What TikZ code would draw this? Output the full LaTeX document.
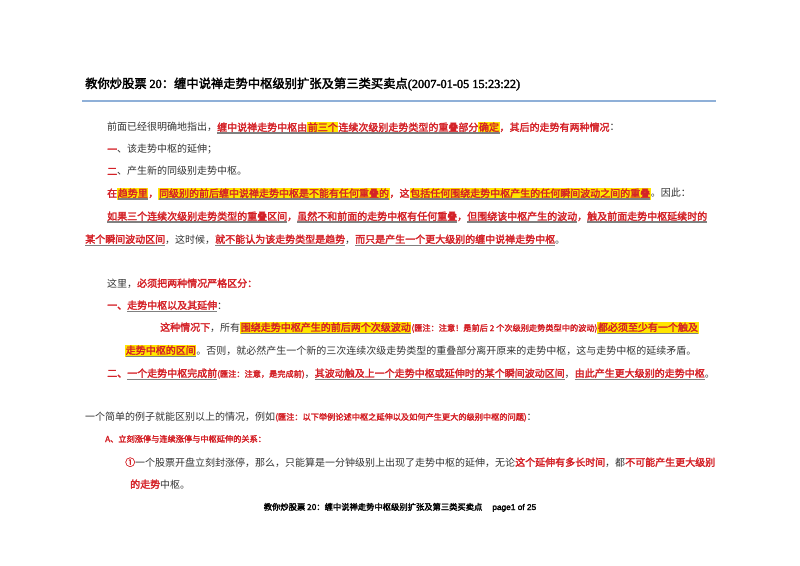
\documentclass[tikz,border=0pt]{standalone}
\usepackage{fontspec}
\setmainfont{Noto Sans CJK SC}[AutoFakeBold=2.5]
\newfontfamily\latinfont{Liberation Serif}[AutoFakeBold=2.5]
\newfontfamily\footfont{Liberation Sans}[AutoFakeBold=2.5]
\definecolor{redtxt}{HTML}{D42228}
\definecolor{yellowhl}{HTML}{FFE500}
\definecolor{bluerule}{HTML}{8FB0D8}
\definecolor{greytxt}{HTML}{333333}
% yellow mark, grey underline, red bold run, small note
\newcommand\hlt[1]{{\setlength\fboxsep{0.6bp}\colorbox{yellowhl}{#1}}}
\newcommand\dul[1]{\setbox0\hbox{#1}\rlap{\color{gray}\rule[-2.6bp]{\wd0}{1.1bp}}\box0}
\newcommand\rb[1]{{\color{redtxt}\bfseries #1}}
\newcommand\note[1]{{\fontsize{8.2bp}{9bp}\selectfont\color{redtxt}\bfseries #1}}
\tikzset{
  line/.style={anchor=base west, inner sep=0pt, text=greytxt,
    font=\fontsize{10bp}{12bp}\selectfont},
  title/.style={anchor=base west, inner sep=0pt, text=black,
    font=\fontsize{12.3bp}{14bp}\selectfont\bfseries}
}
\begin{document}
\begin{tikzpicture}[x=1bp, y=-1bp]
  \useasboundingbox (0,0) rectangle (800,566);
  % heading
  \node[title] (head) at (85,88) {教你炒股票 {\latinfont 20}：缠中说禅走势中枢级别扩张及第三类买卖点{\latinfont (2007-01-05 15:23:22)}};
  \draw[bluerule, line width=1.2bp] (82,101) -- (716,101);

  % first block
  \node[line] (p1) at (107,131) {前面已经很明确地指出，\rb{\dul{缠中说禅走势中枢由\hlt{前三个}连续次级别走势类型的重叠部分\hlt{确定}}，其后的走势有两种情况}：};
  \node[line] (p2) at (107,153) {\rb{一}、该走势中枢的延伸；};
  \node[line] (p3) at (107,175) {\rb{二}、产生新的同级别走势中枢。};
  \node[line] (p4) at (107,197) {\rb{在\hlt{\dul{趋势里}}，\hlt{\dul{同级别的前后缠中说禅走势中枢是不能有任何重叠的}}，这\hlt{\dul{包括任何围绕走势中枢产生的任何瞬间波动之间的重叠}}}。因此：};
  \node[line] (p5) at (107,220) {\rb{\dul{如果三个连续次级别走势类型的重叠区间}，\dul{虽然不和前面的走势中枢有任何重叠}，\dul{但围绕该中枢产生的波动}，\dul{触及前面走势中枢延续时的}}};
  \node[line] (p6) at (85,243) {\rb{\dul{某个瞬间波动区间}}，这时候，\rb{\dul{就不能认为该走势类型是趋势}}，\rb{\dul{而只是产生一个更大级别的缠中说禅走势中枢}}。};

  % second block
  \node[line] (q1) at (107,287) {这里，\rb{必须把两种情况严格区分：}};
  \node[line] (q2) at (107,309) {\rb{一、\dul{走势中枢以及其延伸}}：};
  \node[line] (q3) at (160,331) {\rb{这种情况下}，所有\rb{\hlt{\dul{围绕走势中枢产生的前后两个次级波动}}}\note{(匯注：注意！是前后 2 个次级别走势类型中的波动)}\rb{\hlt{\dul{都必须至少有一个触及}}}};
  \node[line] (q4) at (125,354) {\rb{\hlt{\dul{走势中枢的区间}}}。否则，就必然产生一个新的三次连续次级走势类型的重叠部分离开原来的走势中枢，这与走势中枢的延续矛盾。};
  \node[line] (q5) at (107,377) {\rb{二、\dul{一个走势中枢完成前}}\note{(匯注：注意，是完成前)}，\rb{\dul{其波动触及上一个走势中枢或延伸时的某个瞬间波动区间}}，\rb{\dul{由此产生更大级别的走势中枢}}。};

  % example
  \node[line] (r1) at (85,420) {一个简单的例子就能区别以上的情况，例如\note{(匯注：以下举例论述中枢之延伸以及如何产生更大的级别中枢的问题)}：};
  \node[line, font=\fontsize{8.2bp}{9bp}\selectfont] (r2) at (105,442) {\rb{A、立刻涨停与连续涨停与中枢延伸的关系：}};
  \node[line] (r3) at (125,466) {\rb{①}一个股票开盘立刻封涨停，那么，只能算是一分钟级别上出现了走势中枢的延伸，无论\rb{这个延伸有多长时间}，都\rb{不可能产生更大级别}};
  \node[line] (r4) at (130,488) {\rb{的走势}中枢。};

  % footer
  \node[anchor=base, inner sep=0pt, font=\fontsize{8.3bp}{10bp}\selectfont\bfseries] (foot) at (400,510)
    {教你炒股票 20：缠中说禅走势中枢级别扩张及第三类买卖点\hspace{10bp}{\footfont page1 of 25}};
\end{tikzpicture}
\end{document}
